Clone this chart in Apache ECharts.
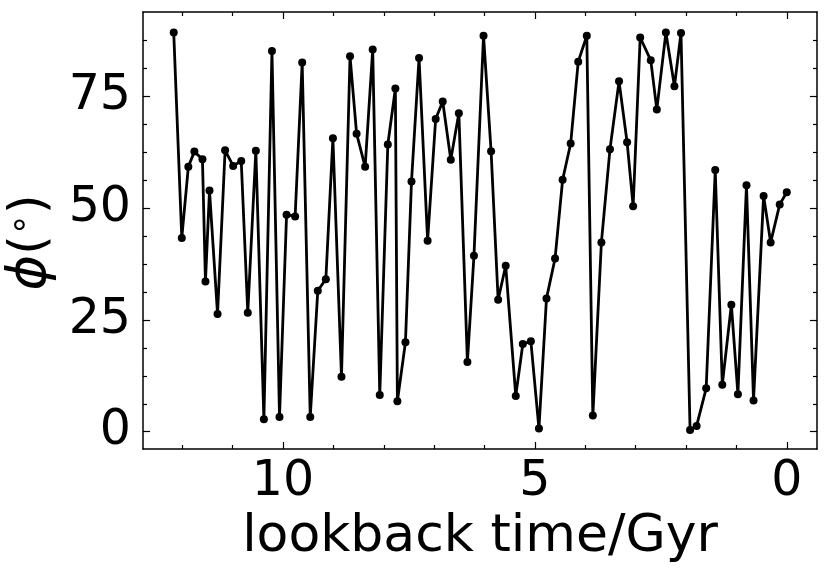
<!DOCTYPE html>
<html>
<head>
<meta charset="utf-8">
<script src="https://cdn.jsdelivr.net/npm/echarts@6/dist/echarts.min.js"></script>
<style>
html,body{margin:0;padding:0;background:#fff;}
#chart{width:830px;height:577px;}
</style>
</head>
<body>
<div id="chart"></div>
<script>
// lookback time (Gyr)
const times = [12.17, 12.01, 11.88, 11.76, 11.60, 11.54, 11.46, 11.30, 11.15, 10.99, 10.83, 10.70, 10.54, 10.38, 10.22, 10.07, 9.93, 9.76, 9.62, 9.46, 9.31, 9.15, 9.01, 8.84, 8.67, 8.54, 8.37, 8.22, 8.08, 7.92, 7.77, 7.73, 7.57, 7.45, 7.30, 7.13, 6.97, 6.83, 6.67, 6.51, 6.34, 6.21, 6.02, 5.87, 5.73, 5.58, 5.38, 5.24, 5.08, 4.92, 4.77, 4.60, 4.45, 4.29, 4.14, 3.97, 3.85, 3.68, 3.51, 3.33, 3.17, 3.05, 2.91, 2.70, 2.58, 2.40, 2.23, 2.10, 1.92, 1.79, 1.60, 1.42, 1.28, 1.10, 0.97, 0.80, 0.66, 0.46, 0.32, 0.14, 0.00];
// phi (degrees)
const phi = [89.2, 43.3, 59.2, 62.6, 60.9, 33.6, 53.9, 26.3, 62.9, 59.4, 60.5, 26.6, 62.8, 2.8, 85.1, 3.3, 48.5, 48.1, 82.5, 3.3, 31.5, 34.1, 65.6, 12.3, 83.9, 66.6, 59.2, 85.4, 8.2, 64.2, 76.7, 6.8, 20.0, 55.9, 83.5, 42.7, 69.9, 73.8, 60.8, 71.2, 15.6, 39.3, 88.5, 62.7, 29.5, 37.1, 8.0, 19.6, 20.2, 0.7, 29.8, 38.7, 56.3, 64.4, 82.7, 88.5, 3.6, 42.3, 63.1, 78.3, 64.7, 50.4, 88.1, 83.0, 72.0, 89.2, 77.2, 89.1, 0.4, 1.3, 9.7, 58.5, 10.5, 28.4, 8.4, 55.1, 7.0, 52.7, 42.3, 50.8, 53.5];

const xMajorTicks = [0, 5, 10];
const xMinorTicks = [1, 2, 3, 4, 6, 7, 8, 9, 11, 12];
const yMajorTicks = [0, 25, 50, 75];
const yMinorTicks = [6.25, 12.5, 18.75, 31.25, 37.5, 43.75, 56.25, 62.5, 68.75, 81.25, 87.5];

const xRange = [-0.6, 12.78];
const yRange = [-3.86, 93.8];

const FONT = 'DejaVu Sans';
const chart = echarts.init(document.getElementById('chart'), null, {renderer: 'canvas'});

function xAx(position, ticks, len, showLine, showLabels, extra) {
  return Object.assign({
    type: 'value', position: position, inverse: true,
    min: xRange[0], max: xRange[1],
    axisLine: {show: showLine, onZero: false, lineStyle: {color: '#000', width: 1.5}},
    axisTick: {show: true, inside: true, length: len, customValues: ticks, lineStyle: {color: '#000', width: 1.2}},
    axisLabel: {show: showLabels, customValues: ticks, fontSize: 49, fontFamily: FONT, color: '#000', margin: 9},
    splitLine: {show: false}
  }, extra || {});
}
function yAx(position, ticks, len, showLine, showLabels, extra) {
  return Object.assign({
    type: 'value', position: position,
    min: yRange[0], max: yRange[1],
    axisLine: {show: showLine, onZero: false, lineStyle: {color: '#000', width: 1.5}},
    axisTick: {show: true, inside: true, length: len, customValues: ticks, lineStyle: {color: '#000', width: 1.2}},
    axisLabel: {show: showLabels, customValues: ticks, fontSize: 49, fontFamily: FONT, color: '#000', margin: 12},
    splitLine: {show: false}
  }, extra || {});
}

const option = {
  backgroundColor: '#fff',
  animation: false,
  grid: {left: 143, right: 13, top: 12, bottom: 128, containLabel: false, outerBoundsMode: 'none'},
  xAxis: [
    xAx('bottom', xMajorTicks, 7, true, true, {
      name: 'lookback time/Gyr', nameLocation: 'middle', nameGap: 62,
      nameTextStyle: {fontSize: 52, fontFamily: FONT, color: '#000'}
    }),
    xAx('bottom', xMinorTicks, 4, false, false),
    xAx('top', xMajorTicks, 7, true, false),
    xAx('top', xMinorTicks, 4, false, false)
  ],
  yAxis: [
    yAx('left', yMajorTicks, 7, true, true, {
      name: '{i|ϕ}{n|(}{s|∘}{n|)}', nameLocation: 'middle', nameRotate: 90, nameGap: 73,
      nameTextStyle: {
        fontFamily: FONT, color: '#000',
        padding: [0, 24, 0, 0],
        rich: {
          i: {fontSize: 54, fontStyle: 'italic', fontFamily: FONT, color: '#000'},
          n: {fontSize: 50, fontFamily: FONT, color: '#000'},
          s: {fontSize: 34, fontFamily: FONT, color: '#000', verticalAlign: 'top'}
        }
      }
    }),
    yAx('left', yMinorTicks, 4, false, false),
    yAx('right', yMajorTicks, 7, true, false),
    yAx('right', yMinorTicks, 4, false, false)
  ],
  series: [{
    type: 'line',
    xAxisIndex: 0, yAxisIndex: 0,
    data: times.map((t, i) => [t, phi[i]]),
    symbol: 'circle', symbolSize: 8,
    showSymbol: true,
    lineStyle: {color: '#000', width: 2.8},
    itemStyle: {color: '#000'},
    z: 5
  }]
};
chart.setOption(option);
</script>
</body>
</html>
